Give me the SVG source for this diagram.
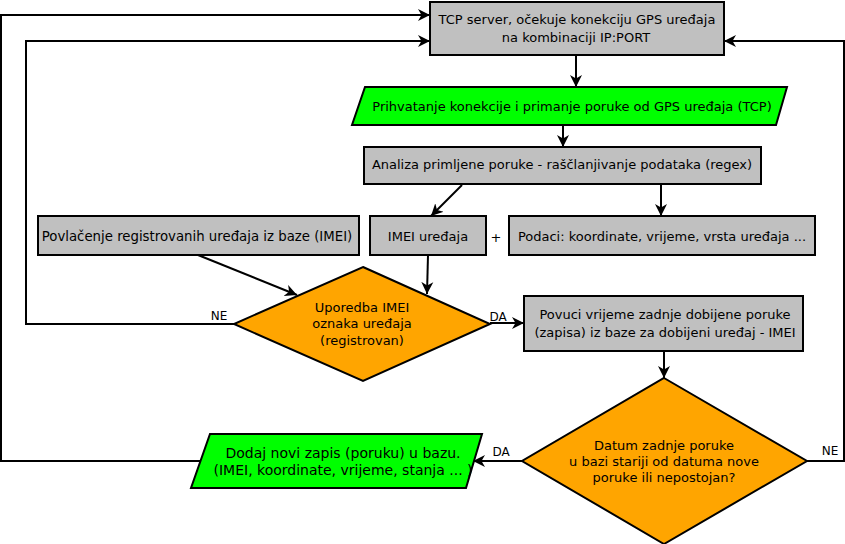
<svg xmlns="http://www.w3.org/2000/svg" width="845" height="544" viewBox="0 0 845 544">
<style>
  .box{fill:#c0c0c0;stroke:#000;stroke-width:2}
  .io{fill:#00ff00;stroke:#000;stroke-width:2}
  .dec{fill:#ffa500;stroke:#000;stroke-width:2}
  text{font-family:"DejaVu Sans",sans-serif;font-size:13px;fill:#000;text-anchor:middle;dominant-baseline:central}
  .lbl{font-size:12px}
  .big{font-size:14px}
  .c{fill:none;stroke:#000;stroke-width:2}
</style>
<defs>
  <marker id="arr" markerUnits="userSpaceOnUse" markerWidth="13" markerHeight="13" viewBox="0 0 13 13" refX="12" refY="6.5" orient="auto">
    <path d="M0,0.5 L12,6.5 L0,12.5 L3.5,6.5 z" fill="#000"/>
  </marker>
</defs>
<rect width="845" height="544" fill="#fff"/>
<g id="connectors">
  <path class="c" d="M576,55 V87" marker-end="url(#arr)"/>
  <path class="c" d="M563,125 V147" marker-end="url(#arr)"/>
  <path class="c" d="M462,185 L431,216" marker-end="url(#arr)"/>
  <path class="c" d="M661,185 V216" marker-end="url(#arr)"/>
  <path class="c" d="M198,255 L297,295" marker-end="url(#arr)"/>
  <path class="c" d="M428,255 L427,294" marker-end="url(#arr)"/>
  <path class="c" d="M234,324 H26 V41 H430" marker-end="url(#arr)"/>
  <path class="c" d="M490,323 H524" marker-end="url(#arr)"/>
  <path class="c" d="M664,351 V378" marker-end="url(#arr)"/>
  <path class="c" d="M807,461 H844 V41 H724" marker-end="url(#arr)"/>
  <path class="c" d="M522,461 H473" marker-end="url(#arr)"/>
  <path class="c" d="M200,461 H1 V15 H430" marker-end="url(#arr)"/>
  <text class="lbl" x="219" y="316">NE</text>
  <text class="lbl" x="498" y="317">DA</text>
  <text class="lbl" x="501" y="452">DA</text>
  <text class="lbl" x="830" y="451">NE</text>
  <text x="496" y="237">+</text>
</g>
<g id="tcp">
  <rect class="box" x="430" y="2" width="294" height="53"/>
  <text x="577" y="19">TCP server, očekuje konekciju GPS uređaja</text>
  <text x="576" y="37">na kombinaciji IP:PORT</text>
</g>
<g id="prihvat">
  <polygon class="io" points="365,87 787,87 776,125 352,125"/>
  <text x="572" y="106">Prihvatanje konekcije i primanje poruke od GPS uređaja (TCP)</text>
</g>
<g id="analiza">
  <rect class="box" x="364" y="147" width="397" height="37"/>
  <text x="562" y="164">Analiza primljene poruke - raščlanjivanje podataka (regex)</text>
</g>
<g id="povlacenje">
  <rect class="box" x="38" y="216" width="321" height="39"/>
  <text x="197" y="236" style="font-size:13.3px">Povlačenje registrovanih uređaja iz baze (IMEI)</text>
</g>
<g id="imei">
  <rect class="box" x="370" y="216" width="116" height="39"/>
  <text x="428" y="236">IMEI uređaja</text>
</g>
<g id="podaci">
  <rect class="box" x="509" y="216" width="306" height="39"/>
  <text x="662" y="236">Podaci: koordinate, vrijeme, vrsta uređaja ...</text>
</g>
<g id="uporedba">
  <polygon class="dec" points="363,267 490,324 363,381 234,324"/>
  <text x="362" y="307">Uporedba IMEI</text>
  <text x="362" y="323">oznaka uređaja</text>
  <text x="362" y="340">(registrovan)</text>
</g>
<g id="povuci">
  <rect class="box" x="524" y="296" width="279" height="55"/>
  <text x="665" y="314">Povuci vrijeme zadnje dobijene poruke</text>
  <text x="665" y="332">(zapisa) iz baze za dobijeni uređaj - IMEI</text>
</g>
<g id="datum">
  <polygon class="dec" points="664,378 807,461 664,544 522,461"/>
  <text x="664" y="445">Datum zadnje poruke</text>
  <text x="664" y="461">u bazi stariji od datuma nove</text>
  <text x="664" y="477">poruke ili nepostojan?</text>
</g>
<g id="dodaj">
  <polygon class="io" points="210,434 482,434 466,488 191,488"/>
  <text class="big" x="343" y="453">Dodaj novi zapis (poruku) u bazu.</text>
  <text class="big" x="343" y="470">(IMEI, koordinate, vrijeme, stanja ... )</text>
</g>
</svg>
